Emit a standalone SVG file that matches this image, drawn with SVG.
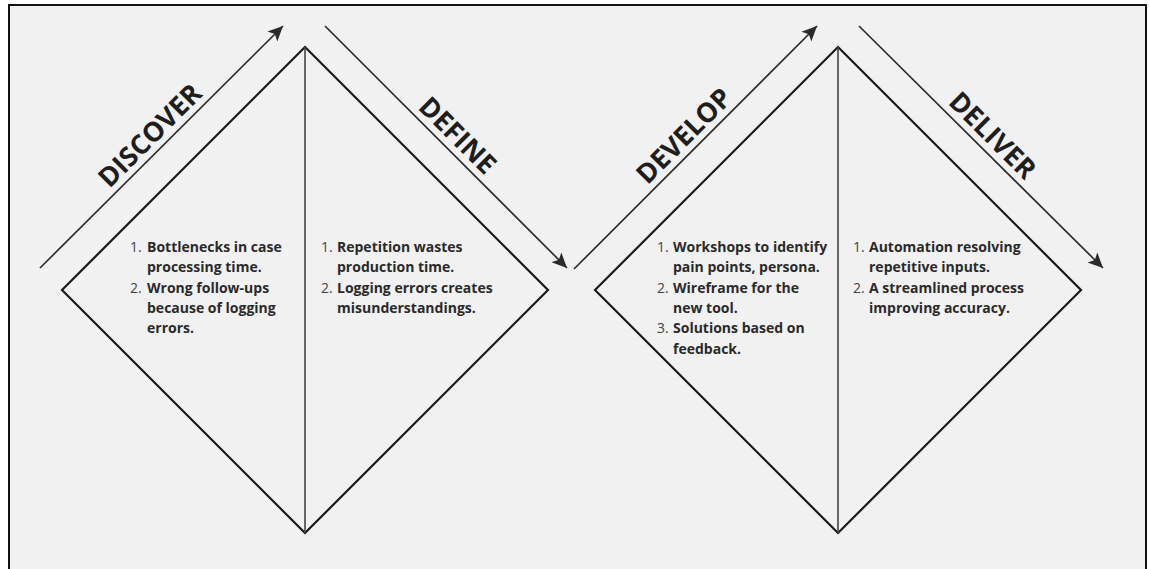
<svg xmlns="http://www.w3.org/2000/svg" width="1149" height="569" viewBox="0 0 1149 569">
  <defs>
    <marker id="head" markerUnits="userSpaceOnUse" markerWidth="18" markerHeight="16" refX="15" refY="8" orient="auto">
      <path d="M0,1 L15,8 L0,15 L3.5,8 Z" fill="#2a2a2a"/>
    </marker>
  </defs>
  <style>
    .frame { fill: #f1f1f1; stroke: #111; stroke-width: 2; }
    .diamond { fill: none; stroke: #1a1a1a; stroke-width: 2.2; stroke-linejoin: miter; }
    .divider { stroke: #444; stroke-width: 1.6; }
    .arrow { stroke: #2e2e2e; stroke-width: 1.7; fill: none; marker-end: url(#head); }
    .phase { font-family: "Open Sans", "Liberation Sans", sans-serif; font-weight: 700; font-size: 27px; fill: #1e1e1e; text-anchor: middle; }
    .item { font-family: "Open Sans", "Liberation Sans", sans-serif; font-size: 14px; fill: #2a2a2a; }
    .num { font-weight: 400; fill: #444; }
    .txt { font-weight: 700; }
  </style>

  <rect width="1149" height="569" fill="#ffffff"/>
  <rect class="frame" x="9" y="5" width="1137" height="600"/>

  <!-- first diamond: discover / define -->
  <g id="diamond-1">
    <polygon class="diamond" points="305,47 548,290 305,533 62,290"/>
    <line class="divider" x1="305" y1="47" x2="305" y2="533"/>
  </g>

  <g id="discover-notes" class="item">
    <text x="130" y="252"><tspan class="num">1.</tspan><tspan class="txt" x="147">Bottlenecks in case</tspan></text>
    <text x="147" y="272.3" class="txt">processing time.</text>
    <text x="130" y="292.6"><tspan class="num">2.</tspan><tspan class="txt" x="147">Wrong follow-ups</tspan></text>
    <text x="147" y="312.9" class="txt">because of logging</text>
    <text x="147" y="333.2" class="txt">errors.</text>
  </g>

  <g id="define-notes" class="item">
    <text x="321" y="252"><tspan class="num">1.</tspan><tspan class="txt" x="337">Repetition wastes</tspan></text>
    <text x="337" y="272.3" class="txt">production time.</text>
    <text x="321" y="292.6"><tspan class="num">2.</tspan><tspan class="txt" x="337">Logging errors creates</tspan></text>
    <text x="337" y="312.9" class="txt">misunderstandings.</text>
  </g>

  <!-- second diamond: develop / deliver -->
  <g id="diamond-2">
    <polygon class="diamond" points="838,47 1081,290 838,533 595,290"/>
    <line class="divider" x1="838" y1="47" x2="838" y2="533"/>
  </g>

  <g id="develop-notes" class="item">
    <text x="657" y="252"><tspan class="num">1.</tspan><tspan class="txt" x="673">Workshops to identify</tspan></text>
    <text x="673" y="272.3" class="txt">pain points, persona.</text>
    <text x="657" y="292.6"><tspan class="num">2.</tspan><tspan class="txt" x="673">Wireframe for the</tspan></text>
    <text x="673" y="312.9" class="txt">new tool.</text>
    <text x="657" y="333.2"><tspan class="num">3.</tspan><tspan class="txt" x="673">Solutions based on</tspan></text>
    <text x="673" y="353.5" class="txt">feedback.</text>
  </g>

  <g id="deliver-notes" class="item">
    <text x="853" y="252"><tspan class="num">1.</tspan><tspan class="txt" x="869">Automation resolving</tspan></text>
    <text x="869" y="272.3" class="txt">repetitive inputs.</text>
    <text x="853" y="292.6"><tspan class="num">2.</tspan><tspan class="txt" x="869">A streamlined process</tspan></text>
    <text x="869" y="312.9" class="txt">improving accuracy.</text>
  </g>

  <!-- phase arrows -->
  <g id="connectors">
    <line class="arrow" x1="40" y1="268" x2="283" y2="26"/>
    <line class="arrow" x1="325" y1="26" x2="567" y2="268"/>
    <line class="arrow" x1="574" y1="269" x2="817" y2="26"/>
    <line class="arrow" x1="859" y1="26" x2="1103" y2="268"/>
  </g>

  <!-- phase labels, set along each arrow -->
  <g id="label-discover"><text class="phase" transform="translate(161.5,147) rotate(-45)" y="-7">DISCOVER</text></g>
  <g id="label-define"><text class="phase" transform="translate(446,147) rotate(45)" y="-7">DEFINE</text></g>
  <g id="label-develop"><text class="phase" transform="translate(695.5,147.5) rotate(-45)" y="-7">DEVELOP</text></g>
  <g id="label-deliver"><text class="phase" transform="translate(981,147) rotate(45)" y="-7">DELIVER</text></g>
</svg>
